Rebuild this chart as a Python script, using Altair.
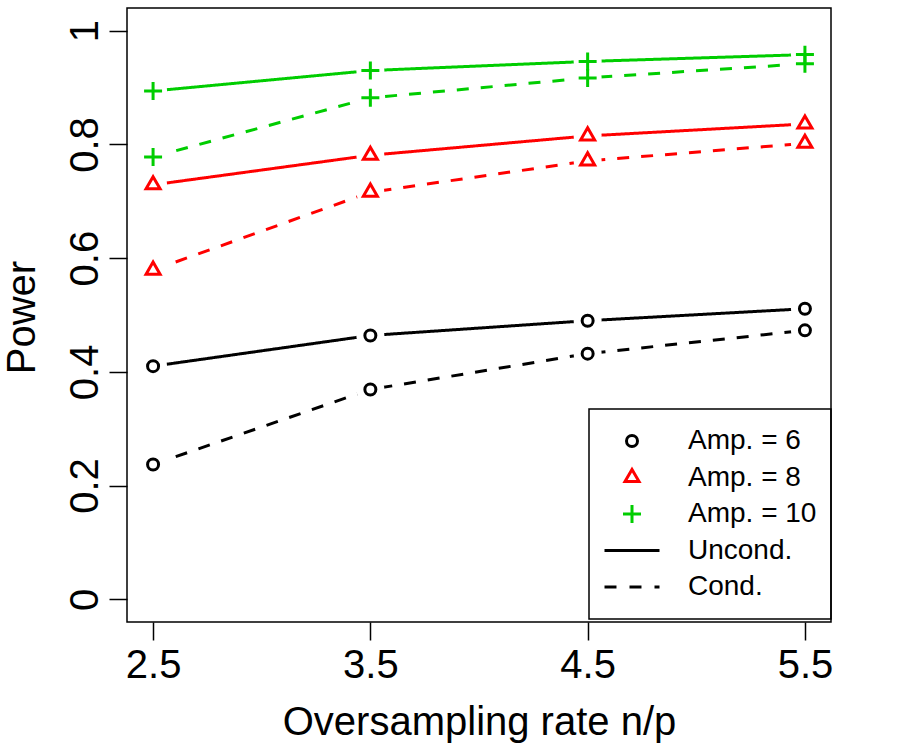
import altair as alt
import pandas as pd

# Oversampling rates (x) and power estimates for each amplitude / test type
rates = [2.5, 3.5, 4.5, 5.5]
amps = ["6", "8", "10"]
types = ["Uncond.", "Cond."]

uncond_amp6 = [0.410, 0.464, 0.490, 0.511]
cond_amp6 = [0.237, 0.369, 0.432, 0.473]
uncond_amp8 = [0.729, 0.781, 0.815, 0.836]
cond_amp8 = [0.579, 0.716, 0.771, 0.802]
uncond_amp10 = [0.894, 0.930, 0.946, 0.958]
cond_amp10 = [0.778, 0.882, 0.917, 0.942]

amp_colors = ["#000000", "#FF0000", "#00CD00"]
legend_entries = ["Amp. = 6", "Amp. = 8", "Amp. = 10", "Uncond.", "Cond."]
legend_colors = ["#000000", "#FF0000", "#00CD00", "#000000", "#000000"]

series = {
    ("6", "Uncond."): uncond_amp6,
    ("6", "Cond."): cond_amp6,
    ("8", "Uncond."): uncond_amp8,
    ("8", "Cond."): cond_amp8,
    ("10", "Uncond."): uncond_amp10,
    ("10", "Cond."): cond_amp10,
}
rows = []
for (amp, typ), vals in series.items():
    for r, v in zip(rates, vals):
        rows.append({"rate": r, "power": v, "amp": amp, "type": typ})
df = pd.DataFrame(rows)

FONT = "Liberation Sans"

# symbol paths (unit = 27.5 px at size 3025)
CIRCLE = "M0.2,0A0.2,0.2 0 1,1 -0.2,0A0.2,0.2 0 1,1 0.2,0Z"
TRIANGLE = "M0,-0.294L0.255,0.147L-0.255,0.147Z"
PLUS = "M-0.327,0H0.327M0,-0.327V0.327"
SOLID = "M-1,0H1"
DASHED = "M-1,0H-0.564M-0.091,0H0.345M0.818,0H1"
SYM_SIZE = 3025

x_enc = alt.X(
    "rate:Q",
    scale=alt.Scale(domain=[2.38, 5.62], nice=False, zero=False),
    axis=alt.Axis(
        values=rates, format=".1f", title="Oversampling rate n/p",
        domain=False, grid=False, tickSize=18, tickWidth=1.5, tickColor="black",
        labelFont=FONT, labelFontSize=40, labelColor="black",
        labelPadding=37, labelBaseline="alphabetic", labelFlush=False,
        labelOverlap=False,
        titleFont=FONT, titleFontSize=40, titleFontWeight="normal",
        titleColor="black", titleBaseline="alphabetic", titleY=112,
    ),
)
y_enc = alt.Y(
    "power:Q",
    scale=alt.Scale(domain=[-0.04, 1.04], nice=False, zero=False),
    axis=alt.Axis(
        values=[0, 0.2, 0.4, 0.6, 0.8, 1], format="~g", title="Power",
        domain=False, grid=False, tickSize=18, tickWidth=1.5, tickColor="black",
        labelFont=FONT, labelFontSize=40, labelColor="black",
        labelAngle=-90, labelAlign="center", labelBaseline="alphabetic",
        labelPadding=12, labelFlush=False, labelOverlap=False,
        titleFont=FONT, titleFontSize=40, titleFontWeight="normal",
        titleColor="black", titleAngle=-90, titleAlign="center",
        titleBaseline="alphabetic", titleX=-93, titleY=309,
    ),
)
color_enc = alt.Color(
    "amp:N", scale=alt.Scale(domain=amps, range=amp_colors), legend=None
)

base = alt.Chart(df)

lines = base.mark_line(strokeWidth=3).encode(
    x=x_enc,
    y=y_enc,
    color=color_enc,
    strokeDash=alt.StrokeDash(
        "type:N",
        scale=alt.Scale(domain=types, range=[[1, 0], [12, 12]]),
        legend=None,
    ),
    detail="type:N",
)

# white gaps around each point, as in an R type="b" plot
gaps = base.mark_point(
    shape="circle", filled=True, size=784, color="white", opacity=1, strokeWidth=0
).encode(x=x_enc, y=y_enc)

markers = base.mark_point(
    filled=False, size=SYM_SIZE, strokeWidth=3, opacity=1
).encode(
    x=x_enc,
    y=y_enc,
    color=color_enc,
    shape=alt.Shape(
        "amp:N", scale=alt.Scale(domain=amps, range=[CIRCLE, TRIANGLE, PLUS]),
        legend=None,
    ),
)

legend_opts = dict(
    title=None, orient="none", legendX=462, legendY=401,
    labelFont=FONT, labelFontSize=28, labelColor="black",
    labelOffset=27, symbolSize=SYM_SIZE, symbolStrokeWidth=3,
    clipHeight=36, rowPadding=0.5, padding=14, strokeColor="black",
)

legend_df = pd.DataFrame({"entry": legend_entries})
legend_layer = alt.Chart(legend_df).mark_point(
    filled=False, size=SYM_SIZE, strokeWidth=3, opacity=1
).encode(
    color=alt.Color(
        "entry:N",
        sort=legend_entries,
        scale=alt.Scale(domain=legend_entries, range=legend_colors),
        legend=alt.Legend(**legend_opts),
    ),
    shape=alt.Shape(
        "entry:N",
        sort=legend_entries,
        scale=alt.Scale(
            domain=legend_entries,
            range=[CIRCLE, TRIANGLE, PLUS, SOLID, DASHED],
        ),
        legend=alt.Legend(**legend_opts),
    ),
).transform_filter("false")

chart = (
    alt.layer(lines, gaps, markers, legend_layer)
    .resolve_scale(color="independent", shape="independent")
    .properties(
        width=704,
        height=614,
        padding={"left": 127, "top": 8, "right": 69, "bottom": 128},
        autosize=alt.AutoSizeParams(type="none"),
        background="white",
    )
    .configure_view(stroke="black", strokeWidth=1.5)
    .configure_legend(strokeWidth=1.5)
)

chart.save("out.html", embed_options={"renderer": "svg", "actions": False})
